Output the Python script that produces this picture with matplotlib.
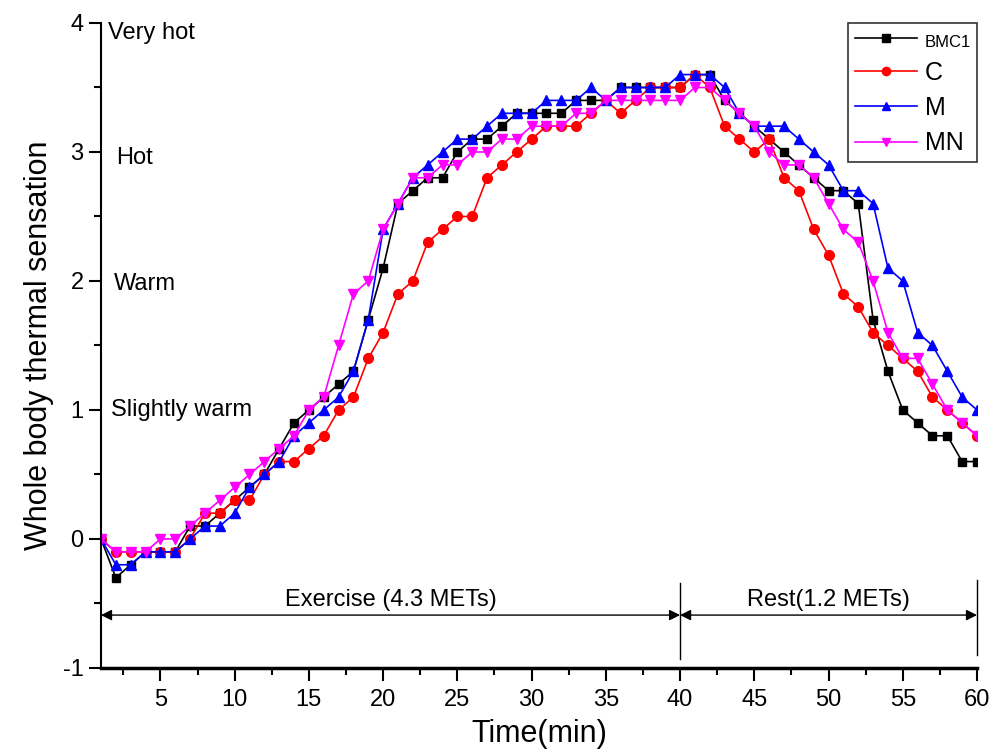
import numpy as np
import matplotlib
matplotlib.use('Agg')
import matplotlib.pyplot as plt
from matplotlib.ticker import MultipleLocator

plt.rcParams['font.family'] = ['Liberation Sans', 'DejaVu Sans']
plt.rcParams['axes.unicode_minus'] = False

# time in minutes, one reading per minute
time = np.arange(1, 61)

bmc1 = [0, -0.3, -0.2, -0.1, -0.1, -0.1, 0.1, 0.1, 0.2, 0.3,
        0.4, 0.5, 0.7, 0.9, 1.0, 1.1, 1.2, 1.3, 1.7, 2.1,
        2.6, 2.7, 2.8, 2.8, 3.0, 3.1, 3.1, 3.2, 3.3, 3.3,
        3.3, 3.3, 3.4, 3.4, 3.4, 3.5, 3.5, 3.5, 3.5, 3.5,
        3.6, 3.6, 3.4, 3.3, 3.2, 3.1, 3.0, 2.9, 2.8, 2.7,
        2.7, 2.6, 1.7, 1.3, 1.0, 0.9, 0.8, 0.8, 0.6, 0.6]
c_vals = [0, -0.1, -0.1, -0.1, -0.1, -0.1, 0.0, 0.2, 0.2, 0.3,
          0.3, 0.5, 0.6, 0.6, 0.7, 0.8, 1.0, 1.1, 1.4, 1.6,
          1.9, 2.0, 2.3, 2.4, 2.5, 2.5, 2.8, 2.9, 3.0, 3.1,
          3.2, 3.2, 3.2, 3.3, 3.4, 3.3, 3.4, 3.5, 3.5, 3.5,
          3.6, 3.5, 3.2, 3.1, 3.0, 3.1, 2.8, 2.7, 2.4, 2.2,
          1.9, 1.8, 1.6, 1.5, 1.4, 1.3, 1.1, 1.0, 0.9, 0.8]
m_vals = [0, -0.2, -0.2, -0.1, -0.1, -0.1, 0.0, 0.1, 0.1, 0.2,
          0.4, 0.5, 0.6, 0.8, 0.9, 1.0, 1.1, 1.3, 1.7, 2.4,
          2.6, 2.8, 2.9, 3.0, 3.1, 3.1, 3.2, 3.3, 3.3, 3.3,
          3.4, 3.4, 3.4, 3.5, 3.4, 3.5, 3.5, 3.5, 3.5, 3.6,
          3.6, 3.6, 3.5, 3.3, 3.2, 3.2, 3.2, 3.1, 3.0, 2.9,
          2.7, 2.7, 2.6, 2.1, 2.0, 1.6, 1.5, 1.3, 1.1, 1.0]
mn_vals = [0, -0.1, -0.1, -0.1, 0.0, 0.0, 0.1, 0.2, 0.3, 0.4,
           0.5, 0.6, 0.7, 0.8, 1.0, 1.1, 1.5, 1.9, 2.0, 2.4,
           2.6, 2.8, 2.8, 2.9, 2.9, 3.0, 3.0, 3.1, 3.1, 3.2,
           3.2, 3.2, 3.3, 3.3, 3.4, 3.4, 3.4, 3.4, 3.4, 3.4,
           3.5, 3.5, 3.4, 3.3, 3.2, 3.0, 2.9, 2.9, 2.8, 2.6,
           2.4, 2.3, 2.0, 1.6, 1.4, 1.4, 1.2, 1.0, 0.9, 0.8]

sensation_labels = ['Very hot', 'Hot', 'Warm', 'Slightly warm']
sensation_pos = [(1.45, 3.92), (2.0, 2.95), (1.85, 1.98), (1.65, 1.0)]

fig = plt.figure(figsize=(10.06, 7.54), dpi=100)
ax = fig.add_axes([0.1004, 0.1141, 0.8708, 0.8554])

ax.plot(time, bmc1, '-s', color='black', lw=1.2, ms=6, label='BMC1')
ax.plot(time, c_vals, '-o', color='red', lw=1.2, ms=7, label='C')
ax.plot(time, m_vals, '-^', color='blue', lw=1.2, ms=7.5, label='M')
ax.plot(time, mn_vals, '-v', color='magenta', lw=1.2, ms=7.5, label='MN')

ax.set_xlim(1, 60)
ax.set_ylim(-1, 4)
ax.set_xticks(np.arange(5, 61, 5))
ax.xaxis.set_minor_locator(MultipleLocator(2.5))
ax.yaxis.set_major_locator(MultipleLocator(1))
ax.yaxis.set_minor_locator(MultipleLocator(0.5))
ax.tick_params(which='major', direction='out', length=9, width=1.5, labelsize=17)
ax.tick_params(which='minor', direction='out', length=5, width=1.5)
ax.tick_params(axis='x', pad=6)
ax.spines['top'].set_visible(False)
ax.spines['right'].set_visible(False)
ax.spines['left'].set_linewidth(1.5)
ax.spines['bottom'].set_linewidth(2.5)

ax.set_xlabel('Time(min)', fontsize=22, labelpad=6)
ax.set_ylabel('Whole body thermal sensation', fontsize=22, labelpad=6)

for txt, (xx, yy) in zip(sensation_labels, sensation_pos):
    ax.text(xx, yy, txt, fontsize=17, ha='left', va='center')

# exercise / rest phases
ax.annotate('', xy=(1, -0.59), xytext=(40, -0.59),
            arrowprops=dict(arrowstyle='<|-|>', color='black', lw=1,
                            mutation_scale=16, shrinkA=0, shrinkB=0))
ax.annotate('', xy=(40, -0.59), xytext=(60, -0.59),
            arrowprops=dict(arrowstyle='<|-|>', color='black', lw=1,
                            mutation_scale=16, shrinkA=0, shrinkB=0))
ax.plot([40, 40], [-0.34, -0.93], color='black', lw=1)
ax.plot([60, 60], [-0.32, -0.90], color='black', lw=1, clip_on=False)
ax.text(20.5, -0.47, 'Exercise (4.3 METs)', fontsize=17, ha='center', va='center')
ax.text(50, -0.47, 'Rest(1.2 METs)', fontsize=17, ha='center', va='center')

leg = ax.legend(loc='upper right', bbox_to_anchor=(1.0, 1.0), borderaxespad=0,
                fontsize=18, numpoints=1, handlelength=2.5, fancybox=False,
                edgecolor='#333333', framealpha=1, labelspacing=0.45,
                handletextpad=0.3, borderpad=0.25)
leg.get_frame().set_linewidth(1.2)
leg.get_texts()[0].set_fontsize(12)
for h in leg.legend_handles:
    h.set_markersize(6)

fig.savefig('out.png', dpi=100)
